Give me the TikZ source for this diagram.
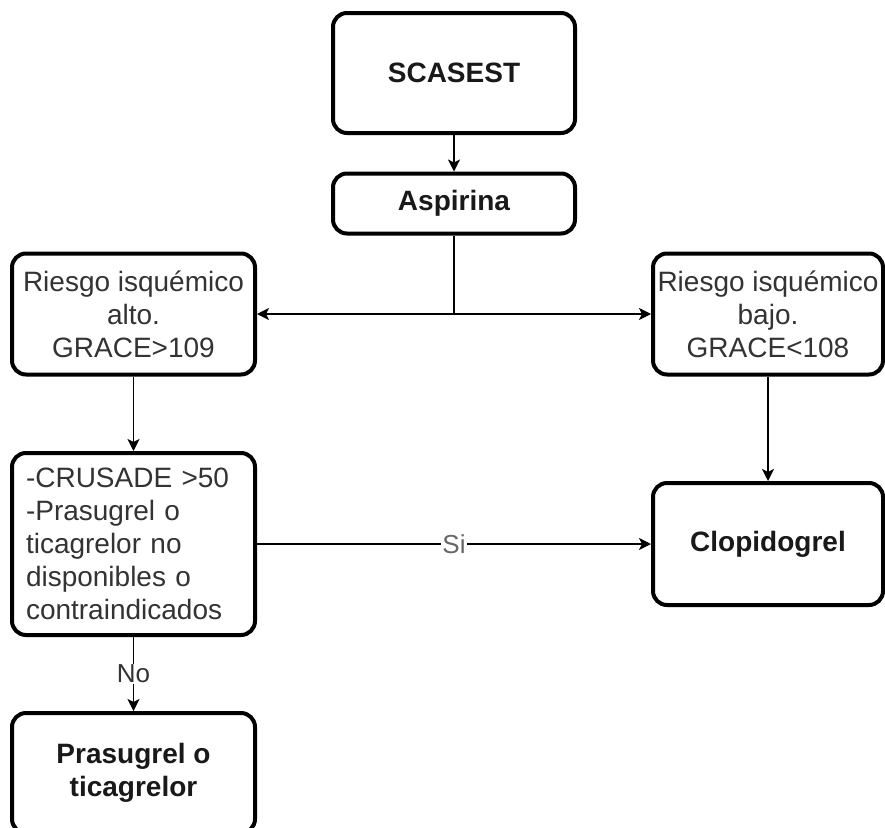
\documentclass[tikz,border=0pt]{standalone}
\usepackage{fontspec}
\setmainfont{Liberation Sans}
\usetikzlibrary{arrows.meta}

\tikzset{
  caja/.style={draw=black, line width=4pt, rounded corners=14pt, fill=white,
    inner sep=0pt, align=center, text=black!80,
    font=\fontsize{28}{33}\selectfont},
  cajab/.style={caja, text=black!90, font=\fontsize{28}{33}\selectfont\bfseries},
  flecha/.style={line width=1.4pt, -{Stealth[length=12pt,width=12pt,inset=3pt]}},
  rotulo/.style={fill=white, inner sep=1pt, text=black!60,
    font=\fontsize{26}{30}\selectfont}
}

\begin{document}
\begin{tikzpicture}[x=1pt, y=-1pt]
			%%%%% START %%%%%
			\useasboundingbox (0, 0) rectangle (885, 827);
			
			\node[cajab, minimum width=242pt, minimum height=120pt] (scasest) at (454, 73) {SCASEST};
			\node[cajab, minimum width=242pt, minimum height=60pt] (aspirina) at (454, 203.5) {Aspirina};
			
			\node[caja, minimum width=243pt, minimum height=121pt] (ralto) at (133.5, 314) {Riesgo isqu\'emico\\alto.\\GRACE>109};
			\node[caja, minimum width=230pt, minimum height=121pt] (rbajo) at (768, 314) {Riesgo isqu\'emico\\bajo.\\GRACE<108};
			
			\node[caja, minimum width=243pt, minimum height=182pt, text width=215pt, align=left] (crusade) at (133.5, 544) {-CRUSADE >50\\-Prasugrel o\\ticagrelor no\\disponibles o\\contraindicados};
			\node[cajab, minimum width=230pt, minimum height=122pt] (clop) at (768, 544) {Clopidogrel};
			
			\node[cajab, minimum width=243pt, minimum height=120pt] (prasu) at (133.5, 773) {Prasugrel o\\ticagrelor};
			
			\coordinate (cruce) at (454, 314);
			
			\draw[flecha] (scasest) -- (aspirina);
			\draw[line width=1.4pt] (aspirina) -- (cruce);
			\draw[flecha] (cruce) -- (ralto);
			\draw[flecha] (cruce) -- (rbajo);
			\draw[flecha] (ralto) -- (crusade);
			\draw[flecha] (rbajo) -- (clop);
			\draw[flecha] (crusade) -- node[rotulo] (si) {Si} (clop);
			\draw[flecha] (crusade) -- node[rotulo, text=black!80] (no) {No} (prasu);
			
			%%%%% END %%%%%
\end{tikzpicture}
\end{document}
